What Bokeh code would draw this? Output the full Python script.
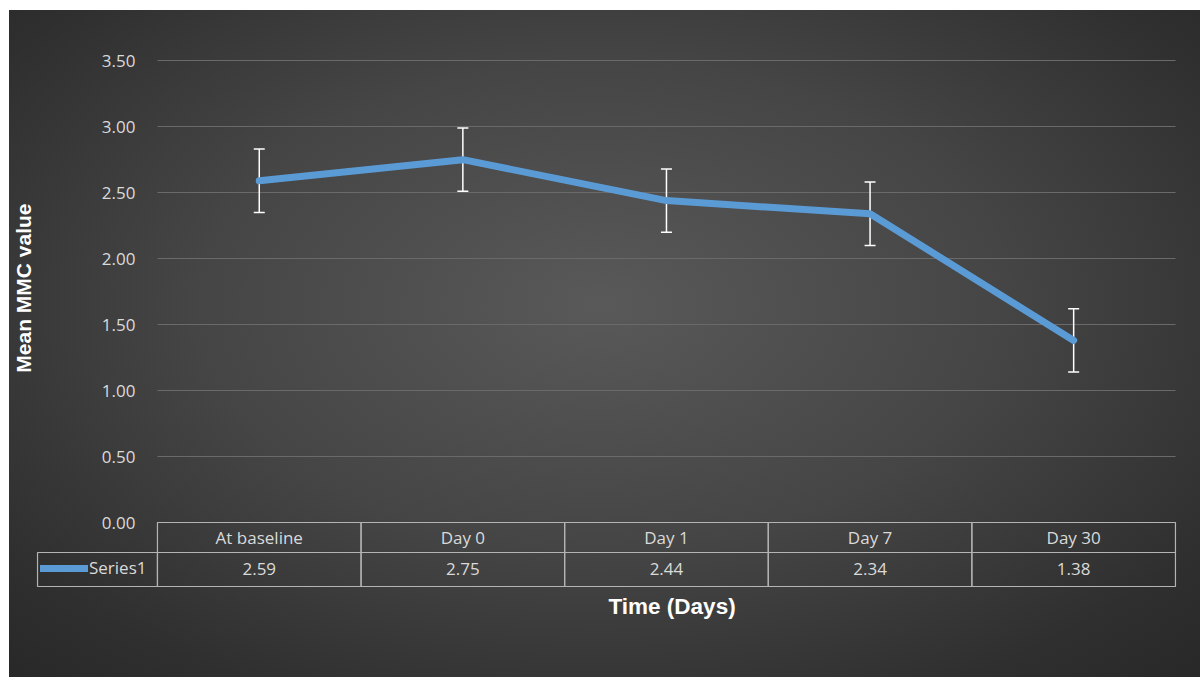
from bokeh.plotting import figure
from bokeh.models import (ColumnDataSource, Whisker, TeeHead, FixedTicker,
                          NumeralTickFormatter, Title, Legend, LegendItem, Range1d)
from bokeh.core.properties import value
from bokeh.embed import file_html
from bokeh.resources import INLINE

# ---- data ----
categories = ["At baseline", "Day 0", "Day 1", "Day 7", "Day 30"]
means = [2.59, 2.75, 2.44, 2.34, 1.38]
errors = [0.24, 0.24, 0.24, 0.24, 0.24]
y_ticks = [0.0, 0.5, 1.0, 1.5, 2.0, 2.5, 3.0, 3.5]
series_name = "Series1"
x_title = "Time (Days)"
y_title = "Mean MMC value"

# ---- styling ----
FONT = "Open Sans"
TXT = "#dadada"
BORDER = "#b4b4b4"
BLUE = "#5b9bd5"

xs = list(range(len(categories)))
HEAD_TOP, HEAD_BOT, VAL_BOT = 0.0, -0.227, -0.485
LEG_LEFT = -1.089

src = ColumnDataSource(dict(
    x=xs, mean=means,
    upper=[m + e for m, e in zip(means, errors)],
    lower=[m - e for m, e in zip(means, errors)],
    cat=categories,
    val=["%.2f" % m for m in means],
    left=[x - 0.5 for x in xs], right=[x + 0.5 for x in xs],
))

p = figure(width=1200, height=677,
           x_range=Range1d(-1.099, 4.51), y_range=Range1d(-0.5, 3.6),
           output_backend="svg", toolbar_location=None,
           min_border_left=35, min_border_right=23,
           min_border_top=47, min_border_bottom=89)
p.border_fill_color = None
p.background_fill_color = None
p.outline_line_color = None
p.styles = {"background": ("linear-gradient(90deg, #ffffff 0px, #ffffff 9px, transparent 9px), "
                           "linear-gradient(180deg, #ffffff 0px, #ffffff 10px, transparent 10px), "
                           "radial-gradient(ellipse 75% 80% at 50% 45%, #595959 0%, #454545 45%, "
                           "#2f2f2f 80%, #262626 100%)")}

# grid
p.xgrid.visible = False
p.ygrid.ticker = FixedTicker(ticks=y_ticks)
p.ygrid.cross_bounds = (-0.5, 4.5)
p.ygrid.grid_line_color = "#6a6a6a"
p.ygrid.grid_line_width = 1

# axes
p.xaxis.visible = False
p.yaxis.ticker = FixedTicker(ticks=y_ticks)
p.yaxis.fixed_location = -0.5
p.yaxis.formatter = NumeralTickFormatter(format="0.00")
p.yaxis.axis_line_color = None
p.yaxis.major_tick_line_color = None
p.yaxis.minor_tick_line_color = None
p.yaxis.major_label_standoff = 16
p.yaxis.major_label_text_font = FONT
p.yaxis.major_label_text_font_size = "17px"
p.yaxis.major_label_text_color = TXT

# data table cells
p.quad(left="left", right="right", top=HEAD_TOP, bottom=HEAD_BOT, source=src,
       fill_color=None, line_color=BORDER, line_width=1.2)
p.quad(left="left", right="right", top=HEAD_BOT, bottom=VAL_BOT, source=src,
       fill_color=None, line_color=BORDER, line_width=1.2)
p.quad(left=[LEG_LEFT], right=[-0.5], top=[HEAD_BOT], bottom=[VAL_BOT],
       fill_color=None, line_color=BORDER, line_width=1.2)
p.text(x="x", y=(HEAD_TOP + HEAD_BOT) / 2, text="cat", source=src,
       text_align="center", text_baseline="middle", text_font=value(FONT),
       text_font_size="17px", text_color=TXT)
p.text(x="x", y=(HEAD_BOT + VAL_BOT) / 2, text="val", source=src,
       text_align="center", text_baseline="middle", text_font=value(FONT),
       text_font_size="17px", text_color=TXT)

# error bars
wh = Whisker(base="x", upper="upper", lower="lower", source=src,
             line_color="white", line_width=1.5,
             upper_head=TeeHead(size=11, line_color="white", line_width=1.5),
             lower_head=TeeHead(size=11, line_color="white", line_width=1.5))
wh.level = "underlay"
p.add_layout(wh)

# series line
line_r = p.line(x="x", y="mean", source=src, line_color=BLUE, line_width=7,
                line_join="round", line_cap="round")

legend = Legend(items=[LegendItem(label=series_name, renderers=[line_r])],
                location=(5, 9), orientation="horizontal",
                border_line_color=None, background_fill_color=None,
                padding=0, margin=0, glyph_width=48, glyph_height=20,
                label_standoff=1, label_text_font=FONT, label_text_font_size="17px",
                label_text_color=TXT, label_height=20)
p.add_layout(legend)

# axis titles
p.add_layout(Title(text=y_title, align="right", offset=156, standoff=2,
                   text_font="Liberation Sans", text_font_style="bold",
                   text_font_size="21px", text_color="white"), "left")
p.add_layout(Title(text=x_title, align="left", offset=573, standoff=6,
                   text_font="Liberation Sans", text_font_style="bold",
                   text_font_size="22.5px", text_color="white"), "below")

open("out.html", "w").write(file_html(p, INLINE))
